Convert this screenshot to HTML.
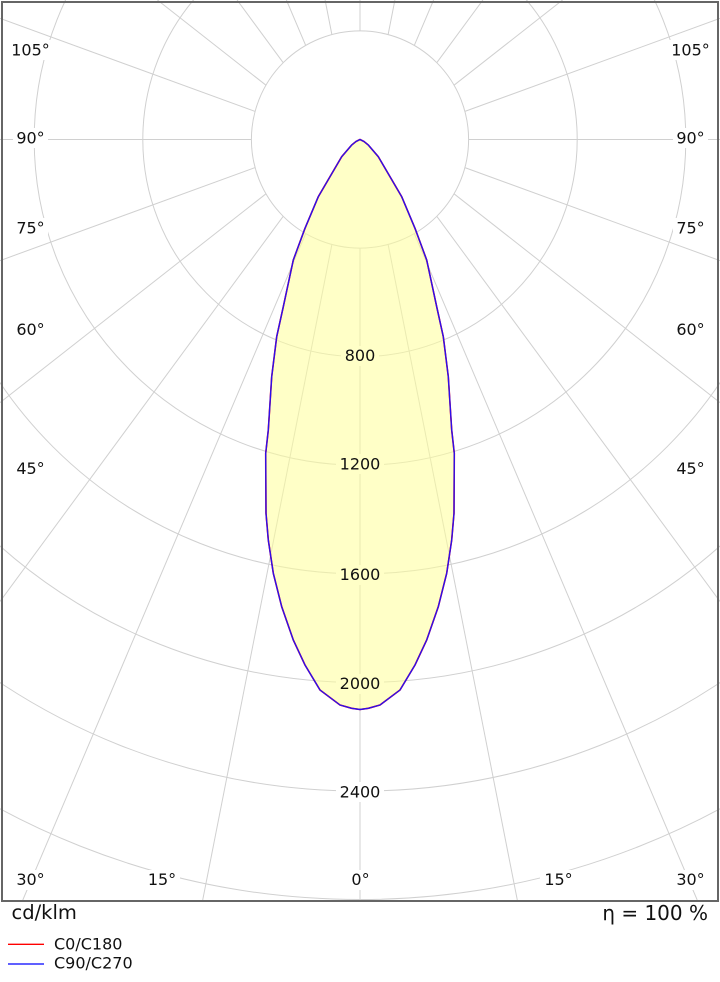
<!DOCTYPE html>
<html>
<head>
<meta charset="utf-8">
<style>
  html, body { margin: 0; padding: 0; background: #ffffff; width: 720px; height: 982px; overflow: hidden; }
  svg { display: block; overflow: hidden; }
  text { font-family: "DejaVu Sans", "Liberation Sans", sans-serif; fill: #111; }
</style>
</head>
<body>
<svg width="720" height="982" viewBox="0 0 720 982" xmlns="http://www.w3.org/2000/svg" overflow="hidden">
  <defs>
    <clipPath id="plot">
      <rect x="0" y="0" width="720" height="900"/>
    </clipPath>
  </defs>
  <rect x="0" y="0" width="720" height="982" fill="#ffffff"/>

  <g clip-path="url(#plot)" stroke="#d0d0d0" stroke-width="1" fill="none">
    <circle cx="360" cy="139.5" r="217.2"/>
    <circle cx="360" cy="139.5" r="325.8"/>
    <circle cx="360" cy="139.5" r="434.4"/>
    <circle cx="360" cy="139.5" r="543"/>
    <circle cx="360" cy="139.5" r="651.6"/>
    <circle cx="360" cy="139.5" r="760"/>
    <line x1="360" y1="248.1" x2="360" y2="900"/>
    <line x1="388.11" y1="244.4" x2="517.3" y2="900"/>
    <line x1="414.3" y1="233.55" x2="697.2" y2="900"/>
    <line x1="436.79" y1="216.29" x2="720" y2="601.5"/>
    <line x1="454.05" y1="193.8" x2="720" y2="402.6"/>
    <line x1="464.9" y1="167.61" x2="720" y2="260.6"/>
    <line x1="468.6" y1="139.5" x2="720" y2="139.5"/>
    <line x1="464.9" y1="111.39" x2="720" y2="18.4"/>
    <line x1="454.05" y1="85.2" x2="562.6" y2="0"/>
    <line x1="436.79" y1="62.71" x2="482.9" y2="0"/>
    <line x1="414.3" y1="45.45" x2="433.6" y2="0"/>
    <line x1="388.11" y1="34.6" x2="394.9" y2="0"/>
    <line x1="360" y1="30.9" x2="360" y2="0"/>
    <line x1="331.89" y1="244.4" x2="202.7" y2="900"/>
    <line x1="305.7" y1="233.55" x2="22.8" y2="900"/>
    <line x1="283.21" y1="216.29" x2="0" y2="601.5"/>
    <line x1="265.95" y1="193.8" x2="0" y2="402.6"/>
    <line x1="255.1" y1="167.61" x2="0" y2="260.6"/>
    <line x1="251.4" y1="139.5" x2="0" y2="139.5"/>
    <line x1="255.1" y1="111.39" x2="0" y2="18.4"/>
    <line x1="265.95" y1="85.2" x2="157.4" y2="0"/>
    <line x1="283.21" y1="62.71" x2="237.1" y2="0"/>
    <line x1="305.7" y1="45.45" x2="286.4" y2="0"/>
    <line x1="331.89" y1="34.6" x2="325.1" y2="0"/>
    <circle cx="360" cy="139.5" r="108.6" fill="#ffffff"/>
  </g>

  <g fill="#ffffff">
    <rect x="9" y="40" width="44" height="20"/>
    <rect x="13" y="128" width="35" height="20"/>
    <rect x="13" y="218" width="35" height="20"/>
    <rect x="13" y="320" width="35" height="20"/>
    <rect x="13" y="459" width="35" height="20"/>
    <rect x="13" y="870" width="35" height="20"/>
    <rect x="144" y="870" width="36" height="20"/>
    <rect x="348" y="870" width="24" height="20"/>
    <rect x="540" y="870" width="37" height="20"/>
    <rect x="673" y="870" width="35" height="20"/>
    <rect x="669" y="40" width="44" height="20"/>
    <rect x="673" y="128" width="35" height="20"/>
    <rect x="673" y="218" width="35" height="20"/>
    <rect x="673" y="320" width="35" height="20"/>
    <rect x="673" y="459" width="35" height="20"/>
    <rect x="341" y="346" width="38" height="20"/>
    <rect x="336" y="454" width="48" height="20"/>
    <rect x="336" y="565" width="48" height="20"/>
    <rect x="336" y="674" width="48" height="20"/>
    <rect x="336" y="782" width="48" height="20"/>
  </g>

  <g font-size="16" text-anchor="middle">
    <text x="30.5" y="55.5">105°</text>
    <text x="30.5" y="143.5">90°</text>
    <text x="30.5" y="233.5">75°</text>
    <text x="30.5" y="335">60°</text>
    <text x="30.5" y="474">45°</text>
    <text x="30.5" y="885">30°</text>
    <text x="162" y="885">15°</text>
    <text x="360.5" y="885">0°</text>
    <text x="558.5" y="885">15°</text>
    <text x="690.5" y="885">30°</text>
    <text x="690.5" y="55.5">105°</text>
    <text x="690.5" y="143.5">90°</text>
    <text x="690.5" y="233.5">75°</text>
    <text x="690.5" y="335">60°</text>
    <text x="690.5" y="474">45°</text>
  </g>

  <polygon fill="#ffff99" fill-opacity="0.55" stroke="none"
    points="360,139.5 364,141.5 368.3,145 378.3,156.7 390,176.7 401.7,196.7 415,228.3 426.7,260 436.7,306.7 443.3,336.7 448.3,376.7 451.7,430 454.3,453.3 454,513.3 451.7,540 446.7,573.3 438.3,606.7 426.7,640 415,665 400,690 380,705 368.3,708.3 360,709.5 351.7,708.3 340,705 320,690 305,665 293.3,640 281.7,606.7 273.3,573.3 268.3,540 266,513.3 265.7,453.3 268.3,430 271.7,376.7 276.7,336.7 283.3,306.7 293.3,260 305,228.3 318.3,196.7 330,176.7 341.7,156.7 351.7,145 356,141.5"/>

  <g font-size="16" text-anchor="middle">
    <text x="360" y="361">800</text>
    <text x="360" y="469.5">1200</text>
    <text x="360" y="580">1600</text>
    <text x="360" y="689">2000</text>
    <text x="360" y="797.5">2400</text>
  </g>

  <polygon fill="none" stroke="#ff0000" stroke-width="1.6" stroke-linejoin="round"
    points="360,139.5 364,141.5 368.3,145 378.3,156.7 390,176.7 401.7,196.7 415,228.3 426.7,260 436.7,306.7 443.3,336.7 448.3,376.7 451.7,430 454.3,453.3 454,513.3 451.7,540 446.7,573.3 438.3,606.7 426.7,640 415,665 400,690 380,705 368.3,708.3 360,709.5 351.7,708.3 340,705 320,690 305,665 293.3,640 281.7,606.7 273.3,573.3 268.3,540 266,513.3 265.7,453.3 268.3,430 271.7,376.7 276.7,336.7 283.3,306.7 293.3,260 305,228.3 318.3,196.7 330,176.7 341.7,156.7 351.7,145 356,141.5"/>
  <polygon fill="none" stroke="#2a10ee" stroke-width="1.4" stroke-linejoin="round"
    points="360,139.5 364,141.5 368.3,145 378.3,156.7 390,176.7 401.7,196.7 415,228.3 426.7,260 436.7,306.7 443.3,336.7 448.3,376.7 451.7,430 454.3,453.3 454,513.3 451.7,540 446.7,573.3 438.3,606.7 426.7,640 415,665 400,690 380,705 368.3,708.3 360,709.5 351.7,708.3 340,705 320,690 305,665 293.3,640 281.7,606.7 273.3,573.3 268.3,540 266,513.3 265.7,453.3 268.3,430 271.7,376.7 276.7,336.7 283.3,306.7 293.3,260 305,228.3 318.3,196.7 330,176.7 341.7,156.7 351.7,145 356,141.5"/>

  <rect x="2" y="2" width="716" height="899" fill="none" stroke="#666666" stroke-width="2"/>

  <text x="11.5" y="919" font-size="19.5">cd/klm</text>
  <text x="708" y="920" font-size="20" text-anchor="end">η = 100 %</text>

  <line x1="8" y1="944.3" x2="44" y2="944.3" stroke="#ff0000" stroke-width="1.3"/>
  <line x1="8" y1="964" x2="44" y2="964" stroke="#0000ff" stroke-width="1.3"/>
  <text x="54" y="949.5" font-size="16">C0/C180</text>
  <text x="54" y="968.5" font-size="16">C90/C270</text>
</svg>
</body>
</html>
